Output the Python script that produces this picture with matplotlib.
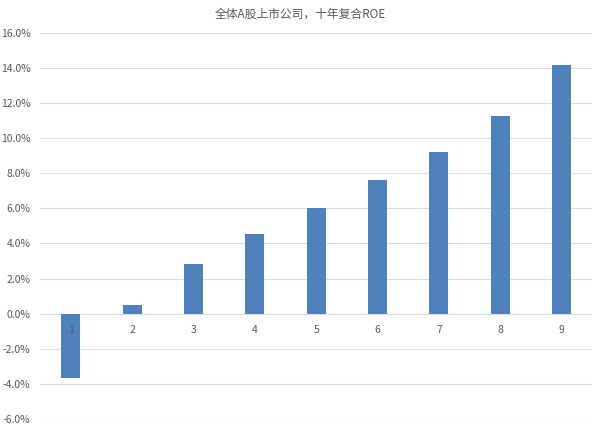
import matplotlib
matplotlib.use("Agg")
import matplotlib.pyplot as plt
from matplotlib.ticker import FuncFormatter

# values (percent)
groups = [1, 2, 3, 4, 5, 6, 7, 8, 9]
roe = [-3.7, 0.5, 2.85, 4.55, 6.0, 7.6, 9.2, 11.3, 14.2]
title = "全体A股上市公司，十年复合ROE"

plt.rcParams['font.family'] = ['Noto Sans CJK SC', 'DejaVu Sans']
gray = "#595959"

fig = plt.figure(figsize=(6, 4.3), dpi=100)
ax = fig.add_axes([0.067, 0.026, 0.92, 0.897])

ax.bar(groups, roe, width=0.31, color="#4F81BD", zorder=3)

ax.set_xlim(0.5, 9.5)
ax.set_ylim(-6, 16)
ax.set_yticks(range(-6, 17, 2))
ax.yaxis.set_major_formatter(FuncFormatter(lambda v, p: f"{v:.1f}%"))
ax.tick_params(axis="y", length=0, labelsize=7.5, labelcolor=gray, pad=7)
ax.set_xticks([])
ax.grid(axis="y", color="#DDDDDD", linewidth=0.8, zorder=0)
for s in ax.spines.values():
    s.set_visible(False)
ax.axhline(0, color="#D9D9D9", linewidth=0.8, zorder=1)

# category labels sit just under the zero line
for g in groups:
    ax.annotate(str(g), (g, 0), xytext=(0, -8), textcoords="offset points",
                ha="center", va="top", fontsize=7.5, color=gray, zorder=4)

fig.text(0.5, 0.968, title, ha="center", va="center", fontsize=8.5, color=gray)

fig.savefig("out.png", dpi=100)
